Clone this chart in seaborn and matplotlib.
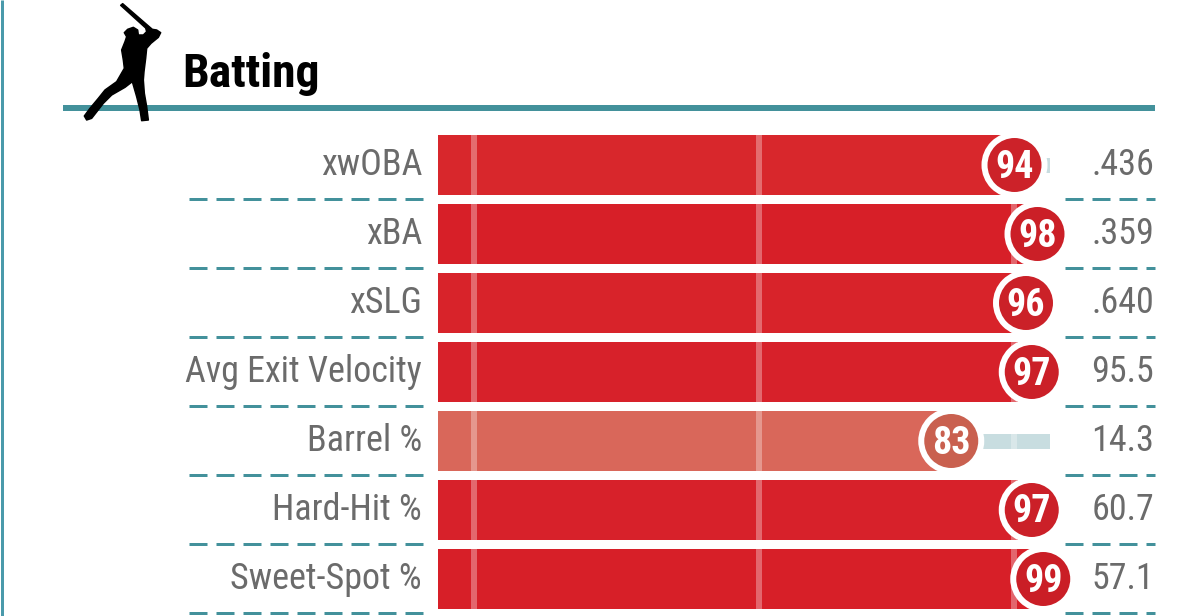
import matplotlib
matplotlib.use("Agg")
import matplotlib.pyplot as plt
from matplotlib.patches import Polygon
import pandas as pd
import seaborn as sns

metrics = ["xwOBA", "xBA", "xSLG", "Avg Exit Velocity", "Barrel %", "Hard-Hit %", "Sweet-Spot %"]
percentiles = [94, 98, 96, 97, 83, 97, 99]
stat_labels = [".436", ".359", ".640", "95.5", "14.3", "60.7", "57.1"]
bar_colors = ["#d8272c", "#d71f28", "#d8232a", "#d7212a", "#d9675a", "#d7212a", "#d71f28"]
dot_colors = ["#cc2229", "#cb1f27", "#cb2128", "#cb2028", "#c9604f", "#cb2028", "#ca1e26"]
guide_positions = [0, 49.6, 93.9]

TEAL = "#43919b"
GREY = "#6b6b6b"
FONT = "Roboto Condensed"
W, H = 1199, 616
PX_PER_PCT = 5.75
ROW = 69

def X(px):
    return (px - 474) / PX_PER_PCT

def Y(py):
    return (py - 165) / ROW

def PT(px):
    return px * 72 / 100

sns.set_theme(style="white")
plt.rcParams["font.family"] = [FONT, "DejaVu Sans"]

start = X(438)
df = pd.DataFrame({"metric": metrics, "pct": percentiles})
df["span"] = df["pct"] - start
df["track"] = X(1050) - start

fig = plt.figure(figsize=(W / 100, H / 100), dpi=100, facecolor="white")
ax = fig.add_axes([0, 0, 1, 1])

sns.barplot(data=df, y="metric", x="track", color="#c8dde0", width=15 / ROW,
            left=start, linewidth=0, saturation=1, ax=ax, zorder=1)
sns.barplot(data=df, y="metric", x="span", hue="metric", palette=bar_colors, dodge=False,
            width=60 / ROW, left=start, linewidth=0, saturation=1, legend=False, ax=ax, zorder=2)

for i, value in enumerate(percentiles):
    for g in guide_positions:
        half = 30 / ROW if g < value else 7.5 / ROW
        ax.vlines(g, i - half, i + half, color="white", alpha=0.32, lw=PT(6), zorder=3)

sns.scatterplot(data=df, y="metric", x="pct", hue="metric", palette=dot_colors, s=PT(60) ** 2,
                edgecolor="white", linewidth=PT(6), legend=False, ax=ax, zorder=4, clip_on=False)

for i, (m, p, s) in enumerate(zip(metrics, percentiles, stat_labels)):
    ax.text(X(422), i, m, ha="right", va="center", color=GREY, fontsize=PT(36), fontweight="normal", zorder=6)
    ax.text(X(1154), i, s, ha="right", va="center", color=GREY, fontsize=PT(36), fontweight="normal", zorder=6)
    ax.text(p, i + 2 / ROW, str(p), ha="center", va="center", color="white", fontsize=PT(38), fontweight="bold", zorder=6)
    yy = i + 0.5 - 0.5 / ROW
    for a, b in ((189, 423), (1065, 1155)):
        ax.plot([X(a), X(b)], [yy, yy], color=TEAL, lw=PT(3), linestyle=(0, (6, 3)),
                dash_capstyle="butt", zorder=5)

# Header rule, left band, title
ax.hlines(Y(108), X(63), X(1155), color=TEAL, lw=PT(6), zorder=5)
ax.vlines(X(1.5), Y(0), Y(616), color="#4a9aab", lw=PT(3), zorder=5)
ax.text(X(182.5), Y(74), "Batting", ha="left", va="center", color="black",
        fontsize=PT(47.5), fontweight="bold", zorder=6)

# Batter silhouette (zoomed-crop outline, scaled into page pixels)
outline = [(137, 16), (143, 11), (218, 76), (225, 82), (232, 88), (245, 90), (257, 98), (250, 112), (228, 130),
           (215, 145), (212, 175), (207, 215), (205, 240), (208, 280), (215, 320), (220, 360), (200, 362),
           (195, 330), (185, 290), (172, 245), (150, 262), (110, 285), (85, 310), (50, 355), (35, 360),
           (28, 348), (45, 325), (70, 295), (90, 270), (125, 245), (148, 205), (145, 180), (140, 150),
           (150, 125), (155, 110), (148, 98), (158, 88), (175, 82), (188, 90), (190, 105), (205, 105),
           (215, 95), (212, 84)]
ax.add_patch(Polygon([(X(75 + a / 3), Y(b / 3)) for a, b in outline], closed=True,
                     facecolor="black", edgecolor="black", linewidth=PT(1.5), joinstyle="round", zorder=7))

ax.set_xlim(X(0), X(W))
ax.set_ylim(Y(H), Y(0))
ax.axis("off")
fig.savefig("out.png", dpi=100, facecolor="white")
